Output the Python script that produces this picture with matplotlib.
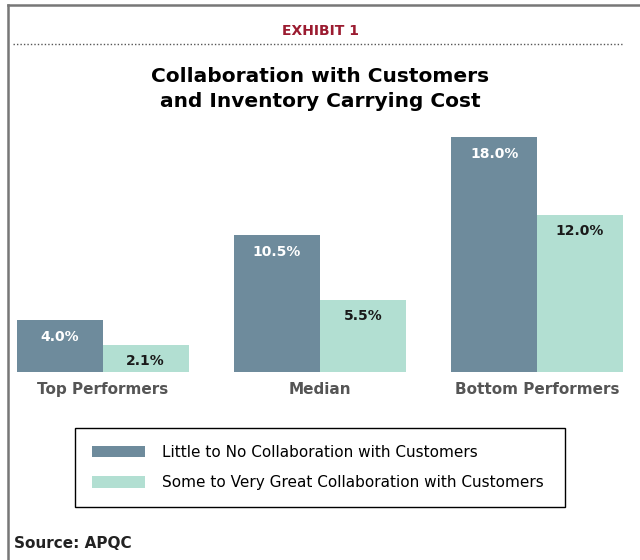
import matplotlib.pyplot as plt
import numpy as np
from matplotlib.lines import Line2D

categories = ['Top Performers', 'Median', 'Bottom Performers']
little_collab = [4.0, 10.5, 18.0]
some_collab = [2.1, 5.5, 12.0]
series_names = ['Little to No Collaboration with Customers',
                'Some to Very Great Collaboration with Customers']

dark = '#6e8b9c'
light = '#b2dfd2'
font = 'DejaVu Sans'

fig = plt.figure(figsize=(6.4, 5.6), dpi=100)
W, H = 640, 560

# frame lines
fig.add_artist(Line2D([8 / W, 1], [1 - 5 / H, 1 - 5 / H], color='#777777', lw=1.8))
fig.add_artist(Line2D([8 / W, 8 / W], [0, 1 - 5 / H], color='#777777', lw=1.8))
fig.add_artist(Line2D([13 / W, 622 / W], [1 - 44 / H, 1 - 44 / H], color='#555555',
                      lw=1, linestyle=(0, (1, 1.5))))

fig.text(320 / W, 1 - 31 / H, 'EXHIBIT 1', ha='center', va='center', color='#9b1b30',
         fontsize=10, fontweight='bold', family=font)
fig.text(320 / W, 1 - 89 / H, 'Collaboration with Customers\nand Inventory Carrying Cost',
         ha='center', va='center', fontsize=14.5, fontweight='bold', family=font,
         linespacing=1.4)

ax = fig.add_axes([17 / W, 1 - 372 / H, 606 / W, 235 / H])
x = np.arange(len(categories))
bw = 0.395
b1 = ax.bar(x - bw / 2, little_collab, bw, color=dark, label=series_names[0])
b2 = ax.bar(x + bw / 2, some_collab, bw, color=light, label=series_names[1])
ax.set_xlim(-bw, 2 + bw)
ax.set_ylim(0, 18)

for rect, v in zip(b1, little_collab):
    ax.annotate(f'{v:.1f}%', (rect.get_x() + rect.get_width() / 2, v), xytext=(0, -17),
                textcoords='offset pixels', ha='center', va='center', color='white',
                fontsize=10, fontweight='bold', family=font)
for rect, v in zip(b2, some_collab):
    ax.annotate(f'{v:.1f}%', (rect.get_x() + rect.get_width() / 2, v), xytext=(0, -16),
                textcoords='offset pixels', ha='center', va='center', color='#1a1a1a',
                fontsize=10, fontweight='bold', family=font)

ax.set_xticks(x)
ax.set_xticklabels(categories, fontsize=11, fontweight='bold', color='#555555', family=font)
ax.tick_params(axis='x', length=0, pad=7)
ax.set_yticks([])
for s in ax.spines.values():
    s.set_visible(False)

leg = ax.legend(loc='upper left', bbox_to_anchor=(75 / W, 1 - 508 / H, 490 / W, 80 / H),
                bbox_transform=fig.transFigure, mode='expand', frameon=True,
                fancybox=False, edgecolor='black', handlelength=3.5,
                handleheight=0.8, handletextpad=1.1, borderpad=1.1, labelspacing=1.0,
                borderaxespad=0, prop={'family': font, 'size': 11})
leg.get_frame().set_linewidth(1.0)
leg.get_frame().set_alpha(1)

fig.text(14 / W, 1 - 543 / H, 'Source: APQC', ha='left', va='center', fontsize=11,
         family=font, fontweight='bold', color='#222222')

fig.savefig('out.png', dpi=100)
